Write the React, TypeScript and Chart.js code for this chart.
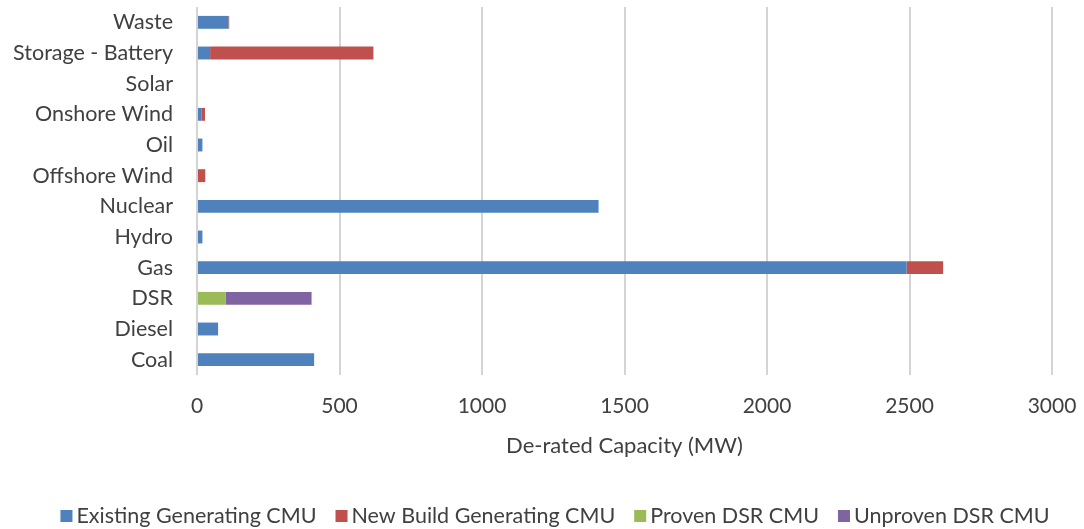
import React, { useEffect, useRef } from "react";
import { Chart, registerables } from "chart.js";

Chart.register(...registerables);

const categories = ["Waste", "Storage - Battery", "Solar", "Onshore Wind", "Oil", "Offshore Wind", "Nuclear", "Hydro", "Gas", "DSR", "Diesel", "Coal"];
const existingGenerating = [110, 46, 0, 15, 19, 0, 1409, 19, 2490, 0, 74, 411];
const newBuildGenerating = [3, 573, 0, 13, 0, 29, 0, 0, 128, 0, 0, 0];
const provenDSR = [0, 0, 0, 0, 0, 0, 0, 0, 0, 100, 0, 0];
const unprovenDSR = [0, 0, 0, 0, 0, 0, 0, 0, 0, 302, 0, 0];
const xTicks = [0, 500, 1000, 1500, 2000, 2500, 3000];
const seriesNames = ["Existing Generating CMU", "New Build Generating CMU", "Proven DSR CMU", "Unproven DSR CMU"];
const seriesColors = ["#4F81BD", "#C0504D", "#9BBB59", "#8064A2"];

const FONT = "Lato, 'Liberation Sans', sans-serif";
const TEXT = "#404040";

const customLegend = {
  id: "customLegend",
  afterDraw(chart: any) {
    const ctx = chart.ctx;
    const size = 21.5;
    const box = 12;
    const gap = 4;
    const itemGap = 19;
    const cy = 516;
    ctx.save();
    ctx.font = `${size}px ${FONT}`;
    ctx.textBaseline = "middle";
    ctx.textAlign = "left";
    const items = chart.data.datasets.map((d: any) => ({ label: d.label, color: d.backgroundColor, w: ctx.measureText(d.label).width }));
    const total = items.reduce((a: number, it: any) => a + box + gap + it.w, 0) + itemGap * (items.length - 1);
    let x = (chart.width - total) / 2 + 13;
    for (const it of items) {
      ctx.fillStyle = it.color;
      ctx.fillRect(x, cy - box / 2, box, box);
      x += box + gap;
      ctx.fillStyle = TEXT;
      ctx.fillText(it.label, x, cy);
      x += it.w + itemGap;
    }
    ctx.restore();
  },
};

export default function App() {
  const ref = useRef<HTMLCanvasElement | null>(null);
  useEffect(() => {
    document.body.style.margin = "0";
    const ctx = ref.current!.getContext("2d")!;
    const chart = new Chart(ctx, {
      type: "bar",
      data: {
        labels: categories,
        datasets: [
          { label: seriesNames[0], data: existingGenerating, backgroundColor: seriesColors[0] },
          { label: seriesNames[1], data: newBuildGenerating, backgroundColor: seriesColors[1] },
          { label: seriesNames[2], data: provenDSR, backgroundColor: seriesColors[2] },
          { label: seriesNames[3], data: unprovenDSR, backgroundColor: seriesColors[3] },
        ],
      },
      plugins: [customLegend],
      options: {
        indexAxis: "y",
        animation: false,
        responsive: false,
        maintainAspectRatio: false,
        datasets: { bar: { barPercentage: 0.42, categoryPercentage: 1 } },
        layout: { padding: { left: 8, right: 32, top: 7, bottom: 0 } },
        plugins: {
          tooltip: { enabled: false },
          legend: { display: false },
        },
        scales: {
          x: {
            stacked: true,
            min: 0,
            max: 3000,
            afterBuildTicks: (s: any) => { s.ticks = xTicks.map((v) => ({ value: v })); },
            afterFit: (s: any) => { s.height = 154; s.paddingLeft = 0; s.paddingRight = 0; },
            grid: { color: "#d4d4d4", lineWidth: 2, drawTicks: false },
            border: { display: false },
            ticks: { color: TEXT, font: { family: FONT, size: 21 }, padding: 19, callback: (v: any) => String(v) },
            title: { display: true, text: "De-rated Capacity (MW)", color: TEXT, font: { family: FONT, size: 22 }, padding: { top: 4, bottom: 70 } },
          },
          y: {
            stacked: true,
            grid: { display: false, drawTicks: false },
            border: { display: false },
            ticks: { color: TEXT, font: { family: FONT, size: 21.5 }, padding: 24, autoSkip: false },
            afterFit: (s: any) => { s.width = 189; s.paddingTop = 0; s.paddingBottom = 0; },
          },
        },
      },
    });
    return () => chart.destroy();
  }, []);
  return (
    <div style={{ position: "absolute", left: 0, top: 0, width: 1084, height: 529 }}>
      <canvas ref={ref} width={1084} height={529} />
    </div>
  );
}
